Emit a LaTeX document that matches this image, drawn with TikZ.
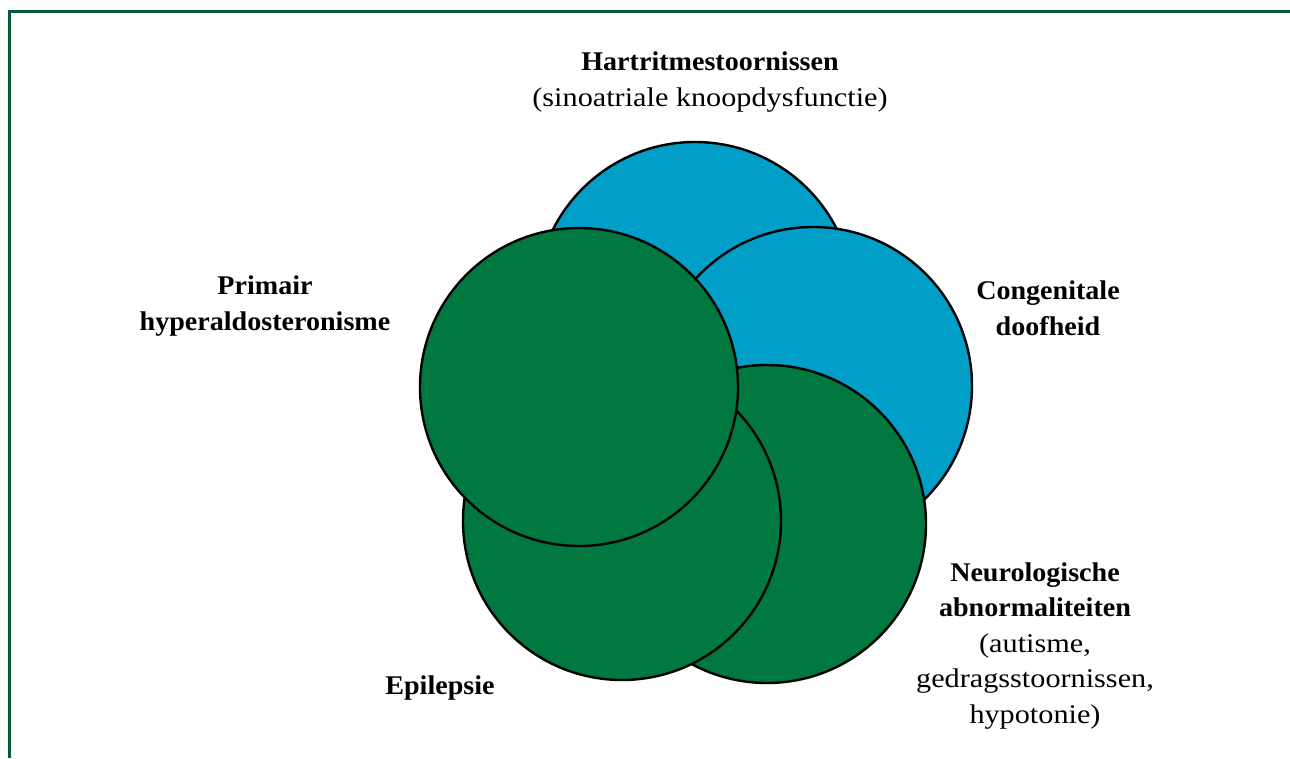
\documentclass[tikz,border=0pt]{standalone}
\usepackage{fontspec}
\setmainfont{Liberation Serif}[BoldFeatures={FakeStretch=1.04}]
\newfontfamily\regfont{Liberation Serif}[FakeStretch=1.12]
\definecolor{cblue}{HTML}{019EC7}
\definecolor{cgreen}{HTML}{017840}
\definecolor{frame}{HTML}{0A5C36}
\begin{document}
\begin{tikzpicture}[x=1pt,y=-1pt,
  circ/.style={circle,draw=black,line width=2.4pt,minimum size=318pt,inner sep=0pt},
  lbl/.style={align=center,inner sep=0pt,font=\fontsize{27}{36.5}\selectfont},
  reg/.style={font=\regfont}]
\useasboundingbox (0,0) rectangle (1290,758);
\coordinate (fb) at (9,758);
\coordinate (fc) at (9,11);
\coordinate (fr) at (1290,11);
\draw[frame,line width=3pt] (fb) -- (fc) -- (fr);
% circles, bottom to top
\node[circ,fill=cblue]  (hart)  at (695,301) {};
\node[circ,fill=cblue]  (doof)  at (813,386) {};
\node[circ,fill=cgreen] (neuro) at (767,524) {};
\node[circ,fill=cgreen] (epi)   at (622,521) {};
\node[circ,fill=cgreen] (prim)  at (579,387) {};
% labels
\node[lbl] (lhart) at (710,81) {\strut\textbf{Hartritmestoornissen}\\\strut{\regfont(sinoatriale knoopdysfunctie)}};
\node[lbl] (lprim) at (265,305) {\strut\textbf{Primair}\\\strut\textbf{hyperaldosteronisme}};
\node[lbl] (ldoof) at (1048,310) {\strut\textbf{Congenitale}\\\strut\textbf{doofheid}};
\node[lbl] (lepi) at (440,687) {\strut\textbf{Epilepsie}};
\node[lbl,font=\fontsize{27}{35.5}\selectfont] (lneuro) at (1035,645) {\strut\textbf{Neurologische}\\\strut\textbf{abnormaliteiten}\\\strut{\regfont(autisme,}\\\strut{\regfont gedragsstoornissen,}\\\strut{\regfont hypotonie)}};
\end{tikzpicture}
\end{document}
